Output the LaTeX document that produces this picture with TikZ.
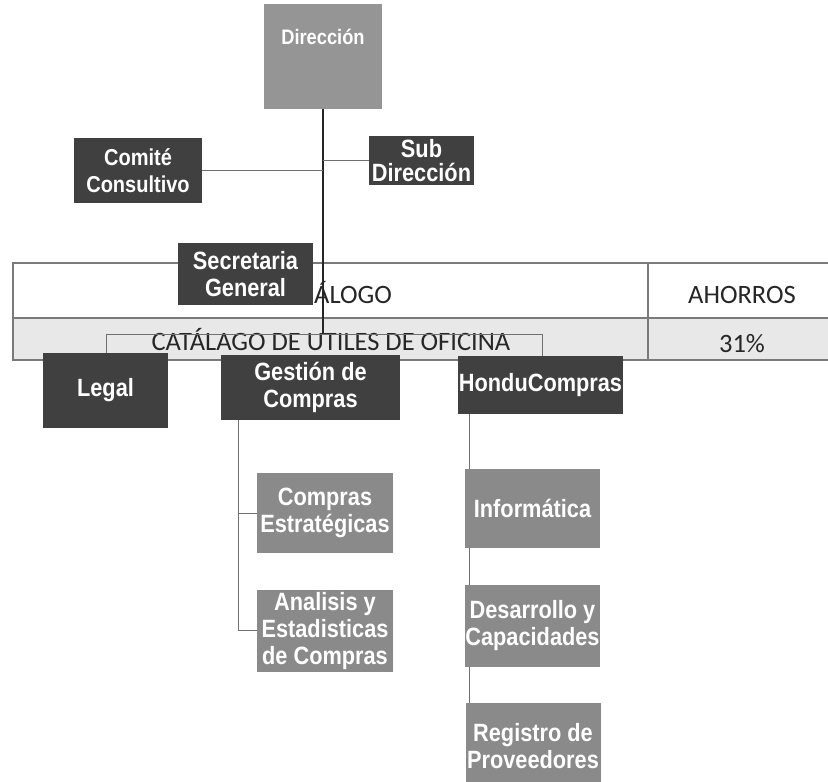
\documentclass[tikz,border=0pt]{standalone}
\usepackage{fontspec}
\newfontfamily\boxfont[FakeStretch=0.87]{Liberation Sans}
\newfontfamily\tabfont{Carlito}
\definecolor{darkbox}{HTML}{404040}
\definecolor{lightbox}{HTML}{8A8A8A}
\definecolor{dirbox}{HTML}{959595}
\definecolor{rowgray}{HTML}{E8E8E8}
\definecolor{tabline}{HTML}{7A7A7A}
\definecolor{linegray}{HTML}{707070}
\pgfdeclarelayer{bg}
\pgfdeclarelayer{lines}
\pgfsetlayers{bg,lines,main}
\begin{document}
\begin{tikzpicture}[x=1pt,y=-1pt,
  box/.style={inner sep=0pt, text=white, align=center,
    font=\boxfont\bfseries\fontsize{25}{27}\selectfont},
  dark/.style={box, fill=darkbox},
  light/.style={box, fill=lightbox},
  conn/.style={draw=linegray, line width=1pt},
  mainconn/.style={draw=black!85, line width=1.3pt},
  tab/.style={draw=tabline, line width=1.6pt},
  tabtext/.style={font=\tabfont\fontsize{26.5}{30}\selectfont, text=black!85, inner sep=0pt, anchor=base}]
\useasboundingbox (0,0) rectangle (828,782);

% boxes
\node[box, fill=dirbox, minimum width=118pt, text height=40pt, text depth=65pt,
  font=\boxfont\bfseries\fontsize{21}{24}\selectfont] (dir) at (323,56.5) {Dirección};
\node[dark, minimum width=128pt, minimum height=65pt,
  font=\boxfont\bfseries\fontsize{23}{27}\selectfont] (comite) at (138,170.5) {Comité\\Consultivo};
\node[dark, minimum width=105pt, minimum height=49pt,
  font=\boxfont\bfseries\fontsize{25}{24}\selectfont] (sub) at (421.5,160.5) {Sub\\Dirección};
\node[dark, minimum width=135pt, minimum height=62pt] (sec) at (245.5,274) {Secretaria\\General};
\node[dark, minimum width=125pt, minimum height=75pt] (legal) at (105.5,390.5) {Legal};
\node[dark, minimum width=179pt, minimum height=65pt] (gest) at (310.5,387.5) {Gestión de\\Compras};
\node[dark, minimum width=165pt, minimum height=58pt] (hondu) at (540.5,385) {HonduCompras};
\node[light, minimum width=136pt, minimum height=80pt] (ce) at (325,513) {Compras\\Estratégicas};
\node[light, minimum width=136pt, minimum height=82pt] (an) at (325,631) {Analisis y\\Estadisticas\\de Compras};
\node[light, minimum width=135pt, minimum height=79pt] (info) at (532.5,508.5) {Informática};
\node[light, minimum width=135pt, minimum height=82pt] (desa) at (532.5,626) {Desarrollo y\\Capacidades};
\node[light, minimum width=135pt, minimum height=87pt] (reg) at (533,746.5) {Registro de\\Proveedores};

% table
\begin{pgfonlayer}{bg}
  \fill[rowgray] (13,318) rectangle (840,360);
  \draw[tab] (840,263) -- (13,263) -- (13,360) -- (840,360);
  \draw[tab] (13,318) -- (840,318);
  \draw[tab] (648,263) -- (648,360);
  \node[tabtext, anchor=base west] (cat) at (314,303) {ÁLOGO};
  \node[tabtext] (aho) at (742,303) {AHORROS};
  \node[tabtext] (cat2) at (331,350) {CATÁLAGO DE UTILES DE OFICINA};
  \node[tabtext] (pct) at (742,352) {31\%};
\end{pgfonlayer}

% connectors
\begin{pgfonlayer}{lines}
  \coordinate (hub) at (323,334);
  \draw[mainconn] (dir.south) -- (hub);
  \draw[conn] (comite.east) -- (comite.east -| dir.south);
  \draw[conn] (sub.west) -- (sub.west -| dir.south);
  \coordinate (lj) at (106,334);
  \coordinate (rj) at (542,334);
  \draw[conn] (legal.north -| lj) -- (lj) -- (rj) -- (hondu.north -| rj);
  \coordinate (gx) at (238,630);
  \draw[conn] (gest.south -| gx) -- (gx) -- (gx -| an.west);
  \draw[conn] (gest.south -| gx) |- (ce.west);
  \coordinate (hx) at (469,0);
  \draw[conn] (hondu.south -| hx) -- (info.north -| hx);
  \draw[conn] (info.south -| hx) -- (desa.north -| hx);
  \draw[conn] (desa.south -| hx) -- (reg.north -| hx);
\end{pgfonlayer}
\end{tikzpicture}
\end{document}
